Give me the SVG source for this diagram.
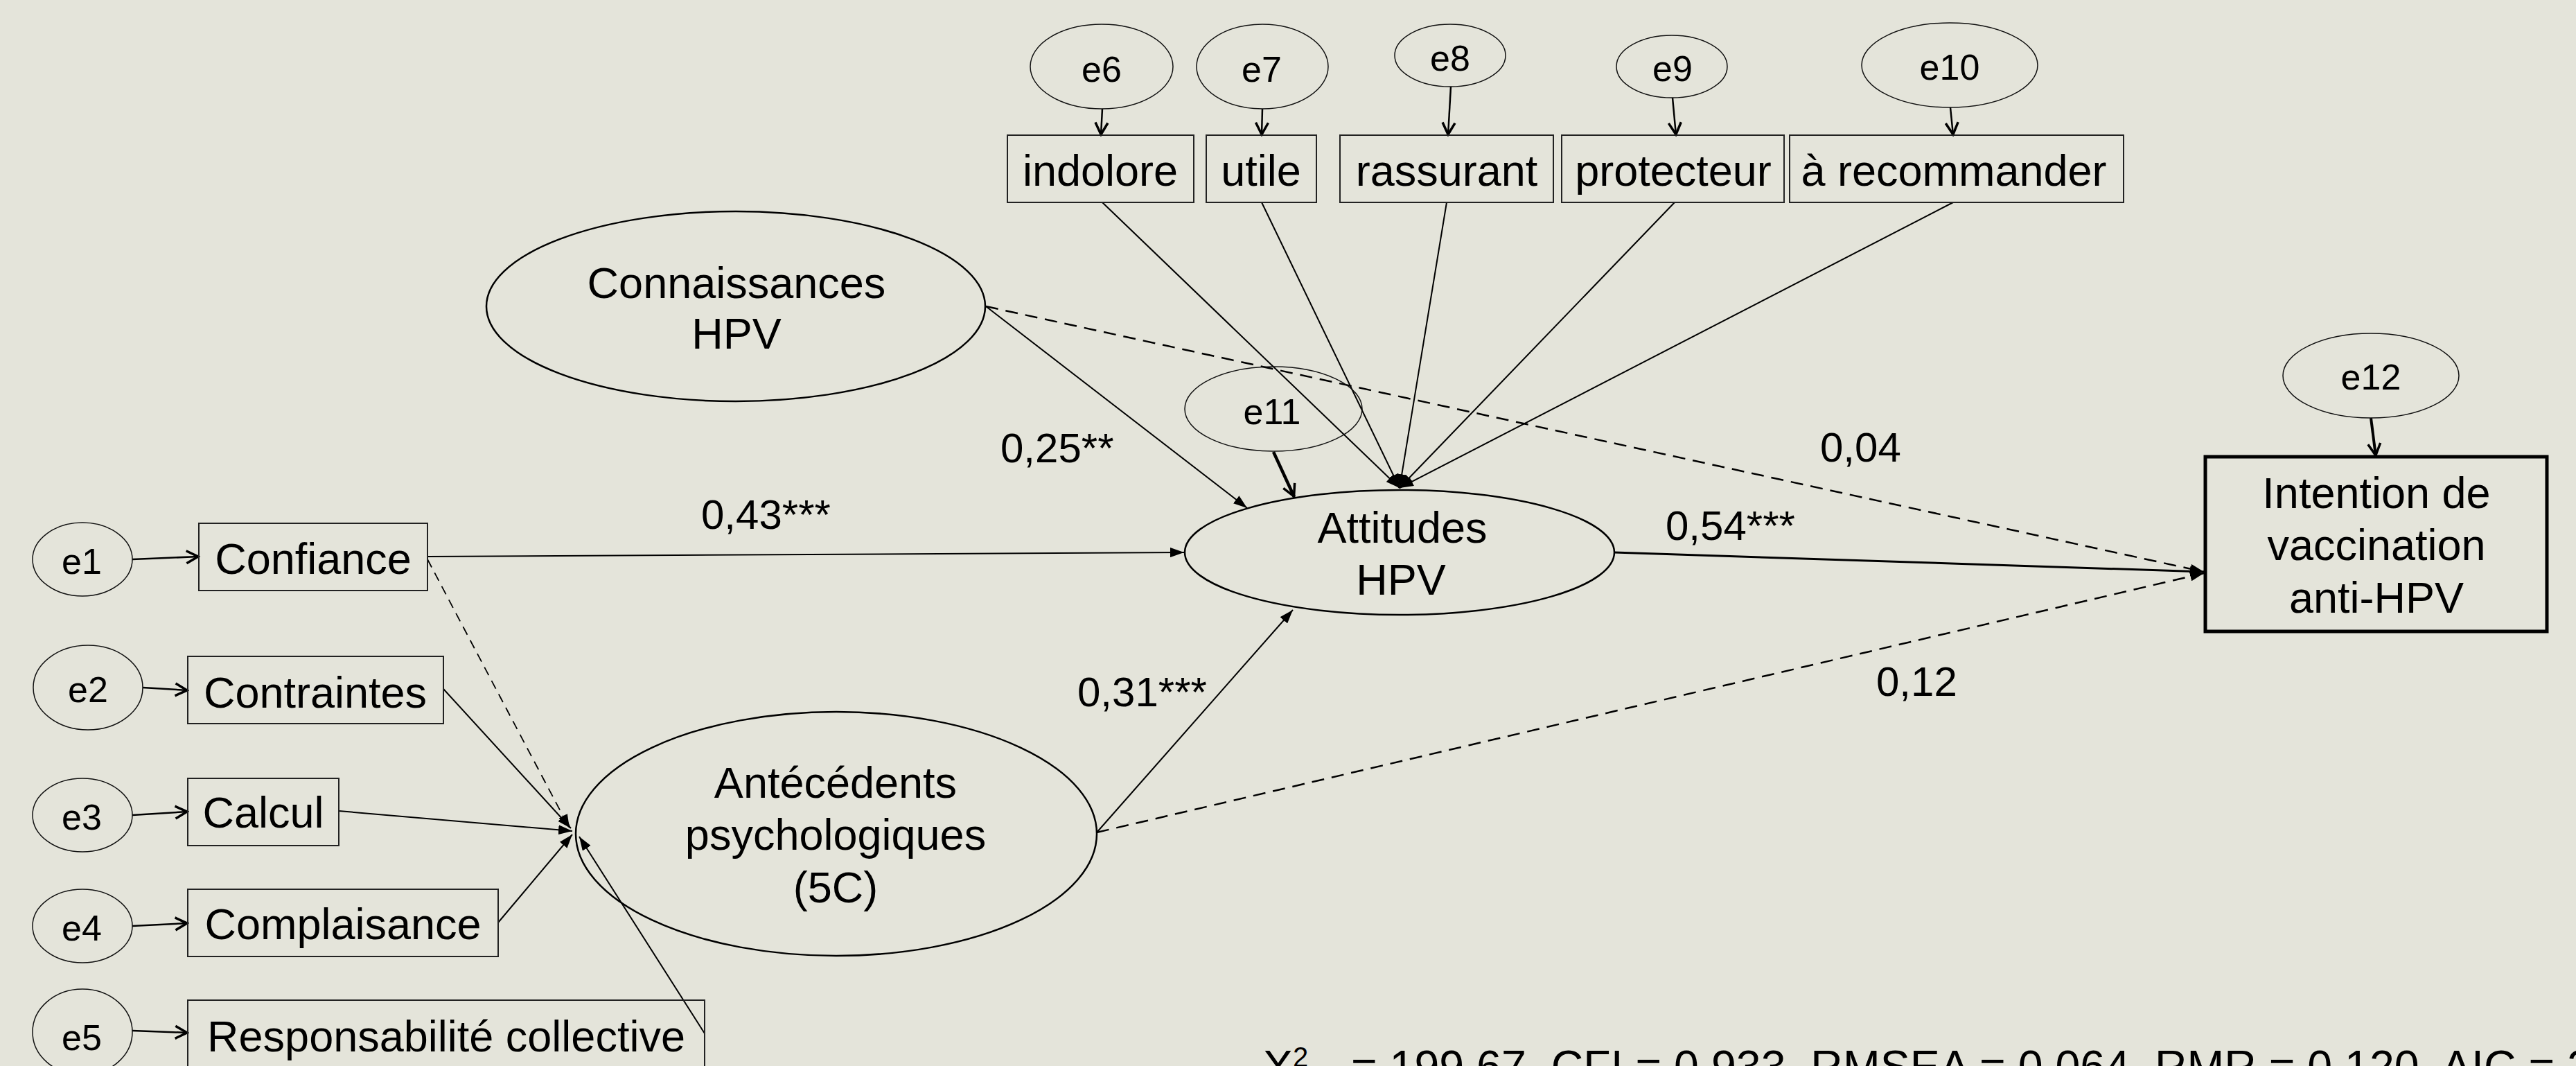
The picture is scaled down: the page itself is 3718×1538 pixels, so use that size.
<svg xmlns="http://www.w3.org/2000/svg" width="3718" height="1538" viewBox="0 0 3718 1538">
<defs>
<style>
text{font-family:"Liberation Sans",Arial,sans-serif;fill:#000}
.lbl{font-size:63px;text-anchor:middle}
.el{font-size:52px;text-anchor:middle}
.coef{font-size:60px}
.fit{font-size:64.5px}
.box{fill:none;stroke:#222;stroke-width:2}
.lat{fill:none;stroke:#000;stroke-width:2.5}
.err{fill:none;stroke:#111;stroke-width:1.5}
.c{fill:none;stroke:#000;stroke-width:2}
.d{fill:none;stroke:#000;stroke-width:2.5;stroke-dasharray:18 11}
.d2{fill:none;stroke:#000;stroke-width:1.8;stroke-dasharray:13 9}
.ea{fill:none;stroke:#000;stroke-width:2.5}
</style>
<marker id="tri" viewBox="0 0 20 14" refX="20" refY="7" markerWidth="20" markerHeight="14" orient="auto" markerUnits="userSpaceOnUse"><path d="M0,0 L20,7 L0,14 Z" fill="#000"/></marker>
<marker id="vee" viewBox="0 0 24 24" refX="22" refY="12" markerWidth="24" markerHeight="24" orient="auto" markerUnits="userSpaceOnUse"><path d="M4,3 L21,12 L4,21" fill="none" stroke="#000" stroke-width="3.5"/></marker>
</defs>
<rect width="3718" height="1538" fill="#E4E4DA"/>

<g id="connectors">
<path class="c" d="M1423,442 L1800,733" marker-end="url(#tri)"/>
<path class="c" d="M617,803 L1709,797" marker-end="url(#tri)"/>
<path class="c" d="M1583,1201 L1866,880" marker-end="url(#tri)"/>
<path class="c" style="stroke-width:3" d="M2330,797 L3181,825" marker-end="url(#tri)"/>
<path class="c" d="M640,994 L824,1195" marker-end="url(#tri)"/>
<path class="c" d="M489,1170 L826,1199" marker-end="url(#tri)"/>
<path class="c" d="M719,1331 L826,1204" marker-end="url(#tri)"/>
<path class="c" d="M1017,1491 L836,1207" marker-end="url(#tri)"/>
<path class="c" d="M1591,292 L2020,704" marker-end="url(#tri)"/>
<path class="c" d="M1821,292 L2020,704" marker-end="url(#tri)"/>
<path class="c" d="M2088,292 L2020,704" marker-end="url(#tri)"/>
<path class="c" d="M2417,292 L2020,704" marker-end="url(#tri)"/>
<path class="c" d="M2819,292 L2020,704" marker-end="url(#tri)"/>
<path class="d2" d="M617,807 L822,1195" marker-end="url(#tri)"/>
<path class="d" d="M1423,442 L3181,825" marker-end="url(#tri)"/>
<path class="d" d="M1583,1201 L3181,827" marker-end="url(#tri)"/>
<path class="ea" d="M191,807 L287,803" marker-end="url(#vee)"/>
<path class="ea" d="M206,992 L271,996" marker-end="url(#vee)"/>
<path class="ea" d="M191,1176 L271,1171" marker-end="url(#vee)"/>
<path class="ea" d="M191,1336 L271,1332" marker-end="url(#vee)"/>
<path class="ea" d="M191,1487 L271,1490" marker-end="url(#vee)"/>
<path class="ea" d="M1591,157 L1589,195" marker-end="url(#vee)"/>
<path class="ea" d="M1822,157 L1821,195" marker-end="url(#vee)"/>
<path class="ea" d="M2094,125 L2090,195" marker-end="url(#vee)"/>
<path class="ea" d="M2414,141 L2419,195" marker-end="url(#vee)"/>
<path class="ea" d="M2815,155 L2819,195" marker-end="url(#vee)"/>
<path class="ea" style="stroke-width:4.5" d="M1838,652 L1868,717" marker-end="url(#vee)"/>
<path class="ea" style="stroke-width:4" d="M3422,603 L3429,658" marker-end="url(#vee)"/>
</g>

<g id="e1"><ellipse class="err" cx="119" cy="807" rx="72" ry="53"/><text class="el" x="118" y="828">e1</text></g>
<g id="e2"><ellipse class="err" cx="127" cy="992" rx="79" ry="61"/><text class="el" x="127" y="1013">e2</text></g>
<g id="e3"><ellipse class="err" cx="119" cy="1176" rx="72" ry="53"/><text class="el" x="118" y="1197">e3</text></g>
<g id="e4"><ellipse class="err" cx="119" cy="1336" rx="72" ry="53"/><text class="el" x="118" y="1357">e4</text></g>
<g id="e5"><ellipse class="err" cx="119" cy="1489" rx="72" ry="62"/><text class="el" x="118" y="1515">e5</text></g>

<g id="confiance"><rect class="box" x="287" y="755" width="330" height="97"/><text class="lbl" x="452" y="828">Confiance</text></g>
<g id="contraintes"><rect class="box" x="271" y="947" width="369" height="97"/><text class="lbl" x="455" y="1021">Contraintes</text></g>
<g id="calcul"><rect class="box" x="271" y="1123" width="218" height="97"/><text class="lbl" x="380" y="1194">Calcul</text></g>
<g id="complaisance"><rect class="box" x="271" y="1283" width="448" height="97"/><text class="lbl" x="495" y="1355">Complaisance</text></g>
<g id="responsabilite"><rect class="box" x="271" y="1443" width="746" height="110"/><text class="lbl" x="644" y="1517">Responsabilité collective</text></g>

<g id="e6"><ellipse class="err" cx="1590" cy="96" rx="103" ry="61"/><text class="el" x="1590" y="118">e6</text></g>
<g id="e7"><ellipse class="err" cx="1822" cy="96" rx="95" ry="61"/><text class="el" x="1821" y="118">e7</text></g>
<g id="e8"><ellipse class="err" cx="2093" cy="80" rx="80" ry="45"/><text class="el" x="2093" y="102">e8</text></g>
<g id="e9"><ellipse class="err" cx="2413" cy="96" rx="80" ry="45"/><text class="el" x="2414" y="117">e9</text></g>
<g id="e10"><ellipse class="err" cx="2814" cy="94" rx="127" ry="61"/><text class="el" x="2814" y="115">e10</text></g>

<g id="indolore"><rect class="box" x="1454" y="195" width="269" height="97"/><text class="lbl" x="1588" y="268">indolore</text></g>
<g id="utile"><rect class="box" x="1741" y="195" width="159" height="97"/><text class="lbl" x="1820" y="268">utile</text></g>
<g id="rassurant"><rect class="box" x="1934" y="195" width="308" height="97"/><text class="lbl" x="2088" y="268">rassurant</text></g>
<g id="protecteur"><rect class="box" x="2254" y="195" width="321" height="97"/><text class="lbl" x="2415" y="268">protecteur</text></g>
<g id="recommander"><rect class="box" x="2583" y="195" width="482" height="97"/><text class="lbl" x="2820" y="268">à recommander</text></g>

<g id="connaissances"><ellipse class="lat" cx="1062" cy="442" rx="360" ry="137"/><text class="lbl" x="1063" y="430">Connaissances</text><text class="lbl" x="1063" y="503">HPV</text></g>
<g id="e11"><ellipse class="err" cx="1838" cy="590" rx="128" ry="61"/><text class="el" x="1836" y="612">e11</text></g>
<g id="attitudes"><ellipse class="lat" cx="2020" cy="797" rx="310" ry="90"/><text class="lbl" x="2024" y="783">Attitudes</text><text class="lbl" x="2022" y="858">HPV</text></g>
<g id="antecedents"><ellipse class="lat" cx="1207" cy="1203" rx="376" ry="176"/><text class="lbl" x="1206" y="1151">Antécédents</text><text class="lbl" x="1206" y="1226">psychologiques</text><text class="lbl" x="1206" y="1302">(5C)</text></g>
<g id="e12"><ellipse class="err" cx="3422" cy="542" rx="127" ry="61"/><text class="el" x="3422" y="562">e12</text></g>
<g id="intention"><rect x="3183" y="659" width="493" height="252" fill="none" stroke="#000" stroke-width="5"/><text class="lbl" x="3430" y="733">Intention de</text><text class="lbl" x="3430" y="808">vaccination</text><text class="lbl" x="3430" y="884">anti-HPV</text></g>

<g id="labels">
<text class="coef" x="1012" y="763">0,43***</text>
<text class="coef" x="1444" y="667">0,25**</text>
<text class="coef" x="1555" y="1019">0,31***</text>
<text class="coef" x="2404" y="779">0,54***</text>
<text class="coef" x="2627" y="666">0,04</text>
<text class="coef" x="2708" y="1004">0,12</text>
<text class="fit" x="1823" y="1561">X<tspan font-size="40" dy="-22">2</tspan><tspan x="1950" dy="22">= 199,67, CFI = 0,933, RMSEA = 0,064, RMR = 0,120, AIC = 2</tspan></text>
</g>
</svg>
